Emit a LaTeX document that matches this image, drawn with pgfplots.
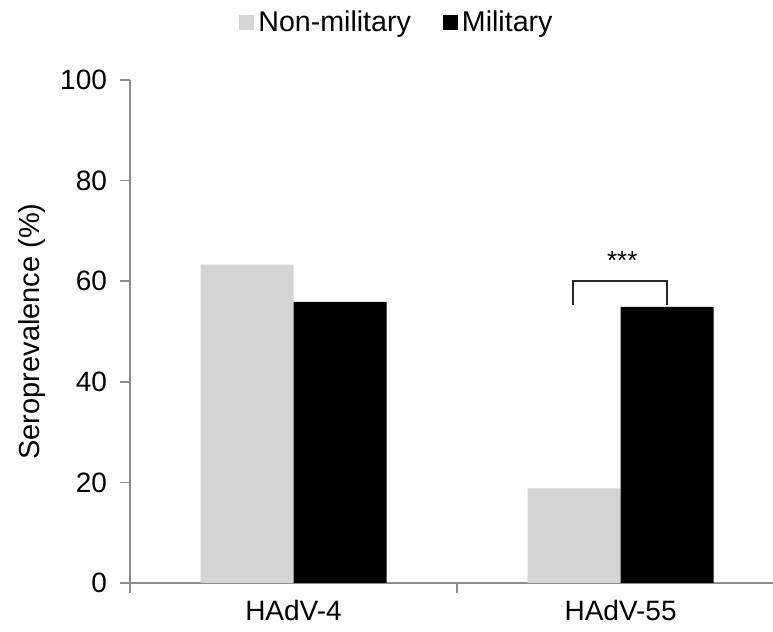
\documentclass[border=0pt]{standalone}
\usepackage{fontspec}
\setmainfont{Liberation Sans}
\usepackage{pgfplots}
\pgfplotsset{compat=1.18}
\definecolor{lightbar}{HTML}{D4D4D4}
\definecolor{axisgray}{HTML}{8C8C8C}
\begin{document}
\begin{tikzpicture}
\begin{axis}[
  scale only axis,
  width=321.5pt, height=251.5pt,
  ybar, bar width=46.5pt,
  xmin=-0.5, xmax=1.466, ymin=0, ymax=100,
  enlargelimits=false,
  axis lines=left,
  axis line style={-, draw=axisgray, line width=0.75pt},
  tick style={draw=axisgray, line width=0.75pt},
  tick align=outside, tick pos=left,
  major tick length=5pt,
  ytick={0,20,40,60,80,100},
  xtick={-0.5,0.5}, xticklabels={},
  extra x ticks={0,1},
  extra x tick labels={HAdV-4,HAdV-55},
  extra x tick style={major tick length=0pt, xticklabel style={yshift=-5pt}},
  /pgf/number format/assume math mode=true,
  ticklabel style={font=\fontsize{14}{16}\selectfont},
  yticklabel style={xshift=-3pt},
  ylabel={Seroprevalence (\%)},
  ylabel style={font=\fontsize{14.5}{16}\selectfont, at={(axis description cs:-0.1524,0.5)}, anchor=center},
  legend columns=2,
  legend style={at={(0.1695,1.115)}, anchor=west, draw=none, inner sep=0pt,
    font=\fontsize{14.3}{16}\selectfont,
    /tikz/every even column/.append style={column sep=14pt}},
  legend image code/.code={\fill[#1] (0pt,-3.75pt) rectangle (7.5pt,3.75pt);},
]
\addplot[fill=lightbar, draw=none, bar shift=-23.25pt] coordinates {(0,63.3) (1,18.8)};
\addlegendentry{Non-military}
\addplot[fill=black, draw=none, bar shift=23.25pt] coordinates {(0,55.9) (1,54.9)};
\addlegendentry{Military}
\draw[line width=1pt, black!85] (axis cs:0.855,55.3) -- (axis cs:0.855,60.0) -- (axis cs:1.142,60.0) -- (axis cs:1.142,55.3);
\node[anchor=base, font=\fontsize{13}{14}\selectfont] at (axis cs:1.005,62.4) {***};
\end{axis}
\pgfresetboundingbox
\path (-65pt,-24.5pt) rectangle (321.5pt,291.5pt);
\end{tikzpicture}
\end{document}
